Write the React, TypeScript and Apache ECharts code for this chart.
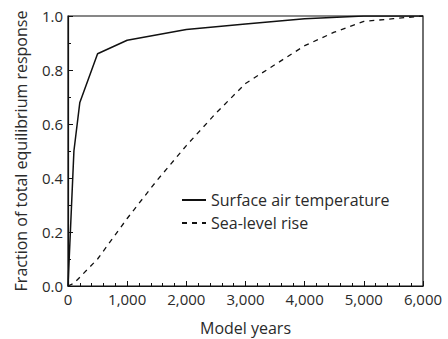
import React, { useEffect, useRef } from "react";
import * as echarts from "echarts";

const surfaceYears = [0, 100, 200, 500, 1000, 2000, 3000, 4000, 5000, 6000];
const surfaceValues = [0, 0.5, 0.68, 0.86, 0.91, 0.95, 0.97, 0.99, 1.0, 1.0];
const seaYears = [0, 100, 500, 1000, 1500, 2000, 2500, 3000, 3500, 4000, 4500, 5000, 5500, 6000];
const seaValues = [0, 0.01, 0.1, 0.25, 0.39, 0.52, 0.64, 0.75, 0.82, 0.89, 0.94, 0.98, 0.99, 1.0];
const seriesNames = ["Surface air temperature", "Sea-level rise"];
const xTitle = "Model years";
const yTitle = "Fraction of total equilibrium response";

const FONT = "Open Sans";
const TXT = "#2a2a2a";

export default function App() {
  const ref = useRef<HTMLDivElement>(null);
  useEffect(() => {
    const chart = echarts.init(ref.current!, null, { renderer: "svg" });
    const axisCommon = {
      axisLine: { show: true, lineStyle: { color: "#111", width: 1.2 } },
      axisTick: { show: true, inside: true, length: 5, lineStyle: { color: "#111", width: 1 } },
      minorTick: { show: true, length: 3, lineStyle: { color: "#111", width: 1 } },
      splitLine: { show: false },
      minorSplitLine: { show: false },
    };
    chart.setOption({
      animation: false,
      grid: {
        left: 68, right: 25, top: 16, bottom: 53,
        containLabel: false,
        outerBoundsMode: "none",
        show: true, borderColor: "#111", borderWidth: 1.2, backgroundColor: "transparent",
      },
      legend: {
        orient: "vertical",
        left: 176,
        top: 187,
        itemWidth: 24,
        itemHeight: 10,
        itemGap: 7,
        itemStyle: { opacity: 0 },
        textStyle: { fontFamily: FONT, fontSize: 16, color: TXT },
        data: seriesNames,
      },
      xAxis: {
        type: "value",
        min: 0,
        max: 6000,
        interval: 1000,
        ...axisCommon,
        minorTick: { ...axisCommon.minorTick, splitNumber: 5 },
        axisLabel: {
          fontFamily: FONT,
          fontSize: 15,
          color: TXT,
          margin: 5,
          formatter: (v: number) => v.toLocaleString("en-US"),
        },
        name: xTitle,
        nameLocation: "middle",
        nameGap: 34,
        nameTextStyle: { fontFamily: FONT, fontSize: 16, color: TXT },
      },
      yAxis: {
        type: "value",
        min: 0,
        max: 1,
        interval: 0.2,
        ...axisCommon,
        minorTick: { ...axisCommon.minorTick, splitNumber: 2 },
        axisLabel: {
          fontFamily: FONT,
          fontSize: 15,
          color: TXT,
          margin: 5,
          formatter: (v: number) => v.toFixed(1),
        },
        name: yTitle,
        nameLocation: "middle",
        nameGap: 39,
        nameTextStyle: { fontFamily: FONT, fontSize: 16, color: TXT },
      },
      series: [
        {
          name: seriesNames[0],
          type: "line",
          symbol: "none",
          data: surfaceYears.map((x, i) => [x, surfaceValues[i]]),
          lineStyle: { color: "#111", width: 1.5, type: "solid" },
          itemStyle: { color: "#111" },
        },
        {
          name: seriesNames[1],
          type: "line",
          symbol: "none",
          data: seaYears.map((x, i) => [x, seaValues[i]]),
          lineStyle: { color: "#111", width: 1.3, type: [5, 5] },
          itemStyle: { color: "#111" },
        },
      ],
    });
    return () => chart.dispose();
  }, []);
  return <div ref={ref} style={{ width: 448, height: 339, position: "absolute", left: 0, top: 0 }} />;
}
